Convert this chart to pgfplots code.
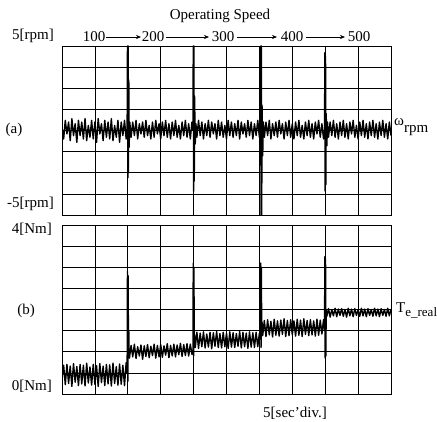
\documentclass[border=0pt]{standalone}
\usepackage{pgfplots}
\pgfplotsset{compat=1.18}
\usepackage{fontspec}
\setmainfont{Liberation Serif}
\usetikzlibrary{arrows.meta}
\begin{document}
\begin{tikzpicture}[x=1pt,y=1pt]
\path[use as bounding box] (0,0) rectangle (437,421);
\pgfplotsset{osc/.style={anchor=south west, width=329pt, height=169pt, scale only axis,
  xmin=0, xmax=10, xtick={0,1,2,3,4,5,6,7,8,9,10}, xticklabels={}, yticklabels={},
  grid=major, major grid style={black, line width=0.7pt}, tick style={draw=none},
  axis line style={black, line width=0.9pt}}}
% ---------- (a) speed error ----------
\begin{axis}[osc, at={(62pt,206pt)}, ymin=-5, ymax=5,
  ytick={-5,-3.75,-2.5,-1.25,0,1.25,2.5,3.75,5}]
\addplot[black, line width=1.4pt, line join=round] coordinates {
(0.00,0.2)(0.05,-0.5)(0.10,0.6)(0.15,-0.2)(0.20,0.5)(0.25,-0.6)(0.30,0.7)(0.35,-0.3)(0.40,0.4)(0.45,-0.7)
(0.50,0.6)(0.55,-0.3)(0.60,0.5)(0.65,-0.5)(0.70,0.7)(0.75,-0.6)(0.80,0.3)(0.85,-0.4)(0.90,0.6)(0.95,-0.5)
(1.00,0.5)(1.05,-0.7)(1.10,0.7)(1.15,-0.2)(1.20,0.4)(1.25,-0.6)(1.30,0.6)(1.35,-0.4)(1.40,0.5)(1.45,-0.5)
(1.50,0.7)(1.55,-0.6)(1.60,0.3)(1.65,-0.4)(1.70,0.6)(1.75,-0.7)(1.80,0.5)(1.85,-0.3)(1.90,0.6)(1.95,-0.5)
(1.98,0.1)(1.99,5.0)(2.00,-2.8)(2.01,5.0)(2.02,-2.5)(2.03,3.0)(2.04,-1.0)(2.06,0.5)
(2.10,-0.4)(2.15,0.5)(2.20,-0.3)(2.25,0.6)(2.30,-0.5)(2.35,0.4)(2.40,-0.2)(2.45,0.5)(2.50,-0.4)(2.55,0.6)
(2.60,-0.3)(2.65,0.3)(2.70,-0.5)(2.75,0.5)(2.80,-0.4)(2.85,0.6)(2.90,-0.2)(2.95,0.4)(3.00,-0.5)(3.05,0.5)
(3.10,-0.3)(3.15,0.6)(3.20,-0.4)(3.25,0.4)(3.30,-0.5)(3.35,0.5)(3.40,-0.3)(3.45,0.6)(3.50,-0.4)(3.55,0.3)
(3.60,-0.5)(3.65,0.5)(3.70,-0.3)(3.75,0.6)(3.80,-0.4)(3.85,0.4)(3.90,-0.5)(3.95,0.5)
(3.98,0.0)(3.99,5.0)(4.00,-3.6)(4.01,5.0)(4.02,-3.0)(4.03,2.0)(4.05,-0.8)(4.07,0.4)
(4.10,-0.4)(4.15,0.6)(4.20,-0.3)(4.25,0.5)(4.30,-0.5)(4.35,0.4)(4.40,-0.3)(4.45,0.6)(4.50,-0.4)(4.55,0.5)
(4.60,-0.2)(4.65,0.4)(4.70,-0.5)(4.75,0.6)(4.80,-0.3)(4.85,0.5)(4.90,-0.4)(4.95,0.3)(5.00,-0.5)(5.05,0.6)
(5.10,-0.3)(5.15,0.5)(5.20,-0.4)(5.25,0.4)(5.30,-0.3)(5.35,0.6)(5.40,-0.5)(5.45,0.5)(5.50,-0.2)(5.55,0.4)
(5.60,-0.4)(5.65,0.6)(5.70,-0.3)(5.75,0.5)(5.80,-0.5)(5.85,0.4)(5.90,-0.3)(5.95,0.6)(6.00,-0.4)
(6.03,0.1)(6.04,5.0)(6.05,-5.0)(6.06,5.0)(6.07,-5.0)(6.08,1.5)(6.10,-1.5)(6.12,0.5)
(6.15,-0.4)(6.20,0.5)(6.25,-0.3)(6.30,0.6)(6.35,-0.5)(6.40,0.4)(6.45,-0.3)(6.50,0.5)(6.55,-0.4)(6.60,0.6)
(6.65,-0.2)(6.70,0.4)(6.75,-0.5)(6.80,0.5)(6.85,-0.3)(6.90,0.6)(6.95,-0.4)(7.00,0.4)(7.05,-0.5)(7.10,0.5)
(7.15,-0.3)(7.20,0.6)(7.25,-0.4)(7.30,0.3)(7.35,-0.5)(7.40,0.5)(7.45,-0.3)(7.50,0.6)(7.55,-0.4)(7.60,0.4)
(7.65,-0.5)(7.70,0.5)(7.75,-0.2)(7.80,0.6)(7.85,-0.4)(7.90,0.4)(7.95,-0.5)
(7.98,0.0)(7.99,4.6)(8.00,-3.6)(8.01,4.4)(8.02,-3.2)(8.03,1.0)(8.05,-0.9)(8.07,0.5)
(8.10,-0.4)(8.15,0.5)(8.20,-0.3)(8.25,0.6)(8.30,-0.4)(8.35,0.4)(8.40,-0.5)(8.45,0.5)(8.50,-0.3)(8.55,0.6)
(8.60,-0.4)(8.65,0.4)(8.70,-0.5)(8.75,0.5)(8.80,-0.2)(8.85,0.6)(8.90,-0.4)(8.95,0.3)(9.00,-0.5)(9.05,0.5)
(9.10,-0.3)(9.15,0.6)(9.20,-0.4)(9.25,0.4)(9.30,-0.5)(9.35,0.5)(9.40,-0.3)(9.45,0.6)(9.50,-0.4)(9.55,0.4)
(9.60,-0.5)(9.65,0.5)(9.70,-0.3)(9.75,0.6)(9.80,-0.4)(9.85,0.4)(9.90,-0.5)(9.95,0.5)(10.00,-0.3)
};
\end{axis}
% ---------- (b) torque ----------
\begin{axis}[osc, at={(62pt,27pt)}, ymin=0, ymax=4,
  ytick={0,0.5,1,1.5,2,2.5,3,3.5,4}]
\addplot[black, line width=1.4pt, line join=round] coordinates {
(0.00,0.35)(0.05,0.68)(0.10,0.22)(0.15,0.70)(0.20,0.25)(0.25,0.66)(0.30,0.18)(0.35,0.72)(0.40,0.28)(0.45,0.65)
(0.50,0.20)(0.55,0.70)(0.60,0.24)(0.65,0.68)(0.70,0.19)(0.75,0.73)(0.80,0.26)(0.85,0.64)(0.90,0.21)(0.95,0.70)
(1.00,0.23)(1.05,0.67)(1.10,0.18)(1.15,0.72)(1.20,0.27)(1.25,0.66)(1.30,0.20)(1.35,0.70)(1.40,0.24)(1.45,0.69)
(1.50,0.19)(1.55,0.73)(1.60,0.25)(1.65,0.65)(1.70,0.21)(1.75,0.71)(1.80,0.23)(1.85,0.68)(1.90,0.20)(1.95,0.74)
(1.98,0.5)(1.99,2.9)(2.00,0.3)(2.01,2.8)(2.02,1.0)(2.03,1.5)(2.04,0.9)
(2.05,0.85)(2.10,1.15)(2.15,0.88)(2.20,1.18)(2.25,0.84)(2.30,1.12)(2.35,0.90)(2.40,1.16)(2.45,0.82)(2.50,1.14)
(2.55,0.89)(2.60,1.17)(2.65,0.86)(2.70,1.13)(2.75,0.91)(2.80,1.18)(2.85,0.85)(2.90,1.15)(2.95,0.88)(3.00,1.17)
(3.05,0.87)(3.10,1.14)(3.15,0.92)(3.20,1.19)(3.25,0.86)(3.30,1.15)(3.35,0.90)(3.40,1.18)(3.45,0.88)(3.50,1.16)
(3.55,0.93)(3.60,1.20)(3.65,0.89)(3.70,1.17)(3.75,0.91)(3.80,1.19)(3.85,0.90)(3.90,1.18)(3.95,0.94)
(3.98,1.0)(3.99,3.1)(4.00,0.9)(4.01,3.0)(4.02,1.1)(4.03,1.4)
(4.05,1.10)(4.10,1.46)(4.15,1.08)(4.20,1.44)(4.25,1.12)(4.30,1.47)(4.35,1.09)(4.40,1.42)(4.45,1.11)(4.50,1.46)
(4.55,1.07)(4.60,1.45)(4.65,1.13)(4.70,1.48)(4.75,1.10)(4.80,1.43)(4.85,1.09)(4.90,1.46)(4.95,1.12)(5.00,1.44)
(5.05,1.08)(5.10,1.47)(5.15,1.11)(5.20,1.45)(5.25,1.10)(5.30,1.43)(5.35,1.13)(5.40,1.48)(5.45,1.09)(5.50,1.46)
(5.55,1.12)(5.60,1.44)(5.65,1.08)(5.70,1.47)(5.75,1.11)(5.80,1.45)(5.85,1.10)(5.90,1.46)(5.95,1.12)(6.00,1.44)
(6.03,1.3)(6.04,3.1)(6.05,1.1)(6.06,3.0)(6.07,1.4)(6.08,1.7)
(6.10,1.38)(6.15,1.74)(6.20,1.36)(6.25,1.76)(6.30,1.40)(6.35,1.72)(6.40,1.35)(6.45,1.77)(6.50,1.39)(6.55,1.73)
(6.60,1.37)(6.65,1.75)(6.70,1.41)(6.75,1.78)(6.80,1.36)(6.85,1.74)(6.90,1.38)(6.95,1.76)(7.00,1.40)(7.05,1.73)
(7.10,1.37)(7.15,1.77)(7.20,1.39)(7.25,1.75)(7.30,1.36)(7.35,1.78)(7.40,1.41)(7.45,1.74)(7.50,1.38)(7.55,1.76)
(7.60,1.40)(7.65,1.73)(7.70,1.37)(7.75,1.77)(7.80,1.39)(7.85,1.75)(7.90,1.42)(7.95,1.76)
(7.98,1.5)(7.99,3.25)(8.00,0.85)(8.01,3.2)(8.02,0.9)(8.03,2.0)(8.04,1.85)
(8.05,1.84)(8.10,2.02)(8.15,1.82)(8.20,2.00)(8.25,1.85)(8.30,2.03)(8.35,1.83)(8.40,2.01)(8.45,1.86)(8.50,2.02)
(8.55,1.84)(8.60,2.00)(8.65,1.82)(8.70,2.03)(8.75,1.85)(8.80,2.01)(8.85,1.83)(8.90,2.02)(8.95,1.86)(9.00,2.00)
(9.05,1.84)(9.10,2.03)(9.15,1.85)(9.20,2.01)(9.25,1.83)(9.30,2.02)(9.35,1.86)(9.40,2.00)(9.45,1.84)(9.50,2.03)
(9.55,1.85)(9.60,2.01)(9.65,1.83)(9.70,2.02)(9.75,1.86)(9.80,2.00)(9.85,1.84)(9.90,2.03)(9.95,1.85)(10.00,2.01)
};
\end{axis}
% ---------- text ----------
\fontsize{15}{17}\selectfont
\node at (220,405) {Operating Speed};
\node at (94,384) {100};
\node at (153,384) {200};
\node at (223,384) {300};
\node at (292,384) {400};
\node at (359,384) {500};
\draw[-{Stealth[length=5pt,width=4pt]}, line width=0.6pt] (106,384) -- (141,384);
\draw[-{Stealth[length=5pt,width=4pt]}, line width=0.6pt] (166,384) -- (209,384);
\draw[-{Stealth[length=5pt,width=4pt]}, line width=0.6pt] (237,384) -- (277,384);
\draw[-{Stealth[length=5pt,width=4pt]}, line width=0.6pt] (306,384) -- (345,384);
\node[anchor=east] at (59,385) {5[rpm]};
\node[anchor=east] at (59,217) {-5[rpm]};
\node at (14,291) {(a)};
\node[anchor=east] at (57,192) {4[Nm]};
\node[anchor=east] at (57,35) {0[Nm]};
\node at (26,110) {(b)};
\node[anchor=west, inner sep=0pt] at (394,294) {ω\raisebox{-7pt}{rpm}};
\node[anchor=west, inner sep=0pt] at (396,111) {T\raisebox{-4pt}{\fontsize{13}{15}\selectfont e\_real}};
\node at (295,8) {5[sec'div.]};
\end{tikzpicture}
\end{document}
